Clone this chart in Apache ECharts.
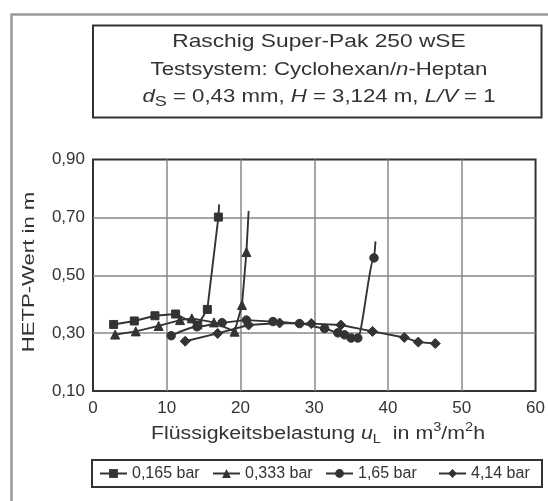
<!DOCTYPE html>
<html>
<head>
<meta charset="utf-8">
<script src="https://cdn.jsdelivr.net/npm/echarts@6.0.0/dist/echarts.min.js"></script>
<style>
  html, body { margin: 0; padding: 0; background: #fff; }
  #chart { width: 548px; height: 501px; }
</style>
</head>
<body>
<div id="chart"></div>
<script>
// values (u_L in m3/m2h, HETP in m)
const seriesNames = ['0,165 bar', '0,333 bar', '1,65 bar', '4,14 bar'];
const symbols = ['rect', 'triangle', 'circle', 'diamond'];
const symbolSizes = [8, 9, 8.5, 10];

const x165 = [2.8, 5.6, 8.4, 11.2, 14.2, 15.5, 17.0];
const y165 = [0.330, 0.342, 0.360, 0.366, 0.328, 0.382, 0.701];
const tip165 = [17.1, 0.745];

const x333 = [3.0, 5.8, 8.9, 11.8, 13.4, 16.4, 19.2, 20.2, 20.8];
const y333 = [0.295, 0.306, 0.325, 0.345, 0.351, 0.337, 0.305, 0.397, 0.580];
const tip333 = [21.1, 0.722];

const x165b = [10.6, 14.1, 17.5, 20.8, 24.4, 28.0, 31.4, 33.2, 34.1, 35.0, 35.9, 38.1];
const y165b = [0.291, 0.322, 0.336, 0.345, 0.340, 0.333, 0.316, 0.301, 0.294, 0.283, 0.283, 0.560];
const tip165b = [38.3, 0.617];

const x414 = [12.5, 16.9, 21.1, 25.3, 29.6, 33.6, 37.9, 42.2, 44.1, 46.4];
const y414 = [0.272, 0.299, 0.328, 0.335, 0.333, 0.328, 0.306, 0.285, 0.269, 0.264];

const xTicks = { min: 0, max: 60, interval: 10 };
const yTicks = { min: 0.1, max: 0.9, interval: 0.2 };

const ink = '#333';
const font = 'Liberation Sans';

function pts(xs, ys, tip) {
    const d = xs.map((x, i) => [x, ys[i]]);
    if (tip) d.push({ value: tip, symbol: 'none' });
    return d;
}

const allData = [
    pts(x165, y165, tip165),
    pts(x333, y333, tip333),
    pts(x165b, y165b, tip165b),
    pts(x414, y414, null)
];

const chart = echarts.init(document.getElementById('chart'), null, { renderer: 'canvas' });

const series = allData.map((d, i) => ({
    name: seriesNames[i],
    type: 'line',
    data: d,
    symbol: symbols[i],
    symbolSize: symbolSizes[i],
    smooth: i === 2 ? 0.25 : false,
    smoothMonotone: 'x',
    showSymbol: true,
    lineStyle: { color: ink, width: 1.9 },
    itemStyle: { color: ink, borderColor: ink },
    emphasis: { disabled: true },
    animation: false,
    z: 3
}));

const mainRich = {
    i: { fontFamily: font, fontSize: 18.5, fontStyle: 'italic', fill: ink, lineHeight: 24 },
    sub: { fontFamily: font, fontSize: 15, fill: ink, lineHeight: 14, verticalAlign: 'bottom' }
};

chart.setOption({
    backgroundColor: '#fff',
    animation: false,
    grid: {
        left: 93, right: 6.5, top: 159.5, bottom: 110,
        show: true, borderColor: ink, borderWidth: 2, backgroundColor: 'transparent'
    },
    xAxis: {
        type: 'value',
        min: xTicks.min, max: xTicks.max, interval: xTicks.interval,
        axisLine: { show: false },
        axisTick: { show: false },
        axisLabel: { color: ink, fontFamily: font, fontSize: 17, margin: 9 },
        splitLine: { show: true, showMinLine: false, showMaxLine: false, lineStyle: { color: '#888', width: 1.5 } }
    },
    yAxis: {
        type: 'value',
        min: yTicks.min, max: yTicks.max, interval: yTicks.interval,
        axisLine: { show: false },
        axisTick: { show: false },
        axisLabel: {
            color: ink, fontFamily: font, fontSize: 17, margin: 8,
            formatter: v => v.toFixed(2).replace('.', ',')
        },
        splitLine: { show: true, showMinLine: false, showMaxLine: false, lineStyle: { color: '#888', width: 1.5 } }
    },
    legend: {
        data: seriesNames,
        left: 99, top: 465.5, padding: 0,
        itemWidth: 27, itemHeight: 11, itemGap: 9,
        selectedMode: false,
        textStyle: { color: ink, fontFamily: font, fontSize: 16, width: 71, lineHeight: 16 }
    },
    series: series,
    graphic: [
        // outer frame (cut off at right and bottom)
        { type: 'rect', shape: { x: 11.5, y: 14.5, width: 700, height: 700 },
          style: { fill: 'none', stroke: '#999', lineWidth: 2.5 }, silent: true },
        // title box
        { type: 'rect', shape: { x: 93, y: 25.5, width: 448.5, height: 92 },
          style: { fill: 'none', stroke: ink, lineWidth: 2 }, silent: true },
        { type: 'text', x: 319, y: 42, scaleX: 1.23,
          style: { text: 'Raschig Super-Pak 250 wSE', fontFamily: font, fontSize: 18.5,
                   fill: ink, align: 'center', verticalAlign: 'middle' } },
        { type: 'text', x: 319, y: 70, scaleX: 1.2,
          style: { text: 'Testsystem: Cyclohexan/{i|n}-Heptan', fontFamily: font, fontSize: 18.5,
                   lineHeight: 24, fill: ink, align: 'center', verticalAlign: 'middle', rich: mainRich } },
        { type: 'text', x: 319, y: 97, scaleX: 1.2,
          style: { text: '{i|d}{sub|S} = 0,43 mm, {i|H} = 3,124 m, {i|L/V} = 1', fontFamily: font, fontSize: 18.5,
                   lineHeight: 24, fill: ink, align: 'center', verticalAlign: 'middle', rich: mainRich } },
        // axis names
        { type: 'text', x: 318, y: 434, scaleX: 1.22,
          style: {
              text: 'Flüssigkeitsbelastung {i|u}{sub|L}  in m{sup|3}/m{sup|2}h',
              fontFamily: font, fontSize: 17.5, lineHeight: 24, fill: ink,
              align: 'center', verticalAlign: 'middle',
              rich: {
                  i: { fontFamily: font, fontSize: 17.5, fontStyle: 'italic', fill: ink, lineHeight: 24 },
                  sub: { fontFamily: font, fontSize: 12, fill: ink, lineHeight: 12, verticalAlign: 'bottom' },
                  sup: { fontFamily: font, fontSize: 12, fill: ink, lineHeight: 14, verticalAlign: 'top' }
              }
          } },
        { type: 'text', x: 29, y: 272, rotation: Math.PI / 2, scaleX: 1.3,
          style: { text: 'HETP-Wert in m', fontFamily: font, fontSize: 17, fill: ink,
                   align: 'center', verticalAlign: 'middle' } },
        // legend box
        { type: 'rect', shape: { x: 92, y: 460, width: 450, height: 27 },
          style: { fill: 'none', stroke: ink, lineWidth: 2 }, silent: true }
    ]
});
</script>
</body>
</html>
